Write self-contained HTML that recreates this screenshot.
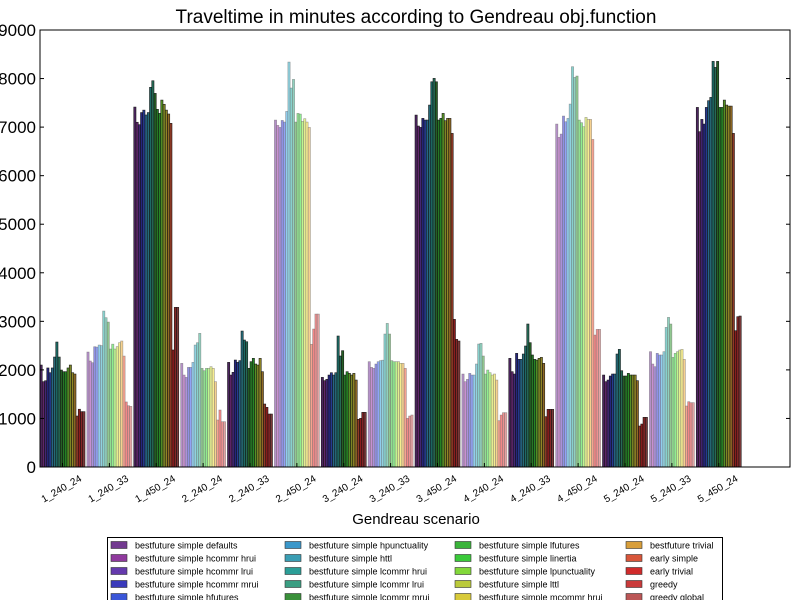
<!DOCTYPE html>
<html><head><meta charset="utf-8"><style>
body{margin:0;background:#fff;}
svg{display:block;font-family:"Liberation Sans",sans-serif;}
</style></head><body>
<svg id="chart" width="800" height="600" xmlns="http://www.w3.org/2000/svg">
<rect width="800" height="600" fill="#fff"/>
<text x="416" y="23" font-size="19" text-anchor="middle">Traveltime in minutes according to Gendreau obj.function</text>
<g id="bars"></g>
<g id="axes"></g>
<text x="416" y="524" font-size="15" text-anchor="middle">Gendreau scenario</text>
<g id="legend"></g>
</svg>
<script>
const categories = ["1_240_24","1_240_33","1_450_24","2_240_24","2_240_33","2_450_24","3_240_24","3_240_33","3_450_24","4_240_24","4_240_33","4_450_24","5_240_24","5_240_33","5_450_24"];
const seriesNames = ["bestfuture simple defaults","bestfuture simple hcommr hrui","bestfuture simple hcommr lrui","bestfuture simple hcommr mrui","bestfuture simple hfutures","bestfuture simple hpunctuality","bestfuture simple httl","bestfuture simple lcommr hrui","bestfuture simple lcommr lrui","bestfuture simple lcommr mrui","bestfuture simple lfutures","bestfuture simple linertia","bestfuture simple lpunctuality","bestfuture simple lttl","bestfuture simple mcommr hrui","bestfuture trivial","early simple","early trivial","greedy","greedy global"];
const seriesColors = ["#8040a0","#a040b0","#7040c0","#4040d0","#4060f0","#40a8e0","#40b0c8","#30b0a8","#40b090","#40a040","#40c840","#40e040","#90f040","#d0e040","#f0e040","#f0b040","#f06040","#e83030","#e04040","#d06060"];
const g1 = [2100,1757,1777,2040,1942,2040,2265,2574,2265,1997,1963,1963,2040,2100,1942,1915,1050,1190,1140,1140];
const g2 = [2368,2183,2148,2477,2470,2512,2500,3212,3075,2985,2430,2530,2430,2480,2560,2595,2285,1340,1262,1250];
const g3 = [7413,7100,7050,7300,7350,7250,7300,7820,7955,7695,7366,7283,7557,7470,7350,7270,7078,2410,3288,3288];
const g4 = [2135,1894,1846,2052,2052,2155,2512,2560,2753,2032,1983,2032,2032,2066,2032,1757,968,1174,933,933];
const g5 = [2155,1894,1950,2203,2155,2190,2800,2615,2580,2032,2169,2238,2121,2100,2238,1963,1297,1229,1091,1091];
const g6 = [7145,7036,6994,7138,7104,7324,8340,7805,7983,7104,7283,7269,7118,7173,7104,6994,2527,2842,3150,3150];
const g7 = [1846,1778,1805,1894,1942,1894,1942,2698,2286,2396,1894,1963,1929,1894,1929,1791,982,1002,1126,1126];
const g8 = [2169,2052,2032,2121,2169,2190,2200,2739,2958,2739,2190,2169,2169,2169,2135,2135,2032,1002,1050,1071];
const g9 = [7248,7022,6994,7180,7145,7145,7454,7934,8004,7934,7145,7180,7283,7132,7180,7180,6871,3041,2629,2595];
const g10 = [1915,1757,1805,1929,1894,1894,2121,2533,2547,2286,1915,1997,1942,1894,1915,1791,954,1071,1119,1119];
const g11 = [2238,1963,1915,2341,2217,2217,2327,2492,2945,2561,2307,2217,2203,2238,2258,2135,1037,1188,1188,1188];
const g12 = [7063,6789,6857,7228,7111,7180,7475,8244,8024,8052,7145,7091,7008,7200,7159,7159,6747,2718,2835,2835];
const g13 = [1894,1757,1791,1874,1915,1915,2327,2423,1983,1874,1874,1929,1894,1894,1894,1778,844,885,1023,1023];
const g14 = [2375,2121,2066,2341,2307,2307,2375,2876,3082,2945,2258,2341,2375,2409,2423,2217,1256,1345,1325,1325];
const g15 = [7406,6905,7159,7063,7406,7544,7612,8354,8230,8354,7406,7406,7557,7454,7433,7433,6871,2807,3096,3109];
const groupValues = [g1,g2,g3,g4,g5,g6,g7,g8,g9,g10,g11,g12,g13,g14,g15];
const yTicks = [0,1000,2000,3000,4000,5000,6000,7000,8000,9000];

const NS = "http://www.w3.org/2000/svg";
const X0 = 40, X1 = 790, Y0 = 467, Y1 = 30, YMAX = 9000, XMAX = 16;
const xs = u => X0 + (X1 - X0) * u / XMAX;
const ys = v => Y0 - (Y0 - Y1) * v / YMAX;
const nS = seriesNames.length;
const bw = 0.96 / nS;

function mix(hex, t, target) {
  const n = parseInt(hex.slice(1), 16);
  const c = [(n >> 16) & 255, (n >> 8) & 255, n & 255].map(v => Math.round(v + (target - v) * t));
  return "rgb(" + c.join(",") + ")";
}
function mk(tag, attrs, parent) {
  const e = document.createElementNS(NS, tag);
  for (const k in attrs) e.setAttribute(k, attrs[k]);
  parent.appendChild(e);
  return e;
}

const barsG = document.getElementById("bars");
groupValues.forEach((vals, gi) => {
  const light = gi % 2 === 1;
  vals.forEach((v, si) => {
    const x = xs(gi + si * bw), w = xs(bw) - X0;
    const fill = light ? mix(seriesColors[si], 0.42, 255) : mix(seriesColors[si], 0.4, 0);
    const r = mk("rect", {x: x.toFixed(2), y: ys(v).toFixed(2), width: w.toFixed(2), height: (Y0 - ys(v)).toFixed(2), fill: fill, stroke: light ? "#666" : "#111", "stroke-width": "0.6", "stroke-opacity": light ? "0.6" : "0.9"}, barsG);
    
    
  });
});

const ax = document.getElementById("axes");
yTicks.forEach(t => {
  const y = ys(t);
  const l1 = mk("line", {x1: X0, x2: X0 + 4, y1: y, y2: y, stroke: "#000", "stroke-width": 1}, ax);
  
  
  const l2 = mk("line", {x1: X1 - 4, x2: X1, y1: y, y2: y, stroke: "#000", "stroke-width": 1}, ax);
  
  
  const tx = mk("text", {x: 36, y: y + 6, "font-size": 17, "text-anchor": "end"}, ax);
  tx.textContent = t;
  
  
});
categories.forEach((c, i) => {
  const x = xs(i + 0.48);
  const l = mk("line", {x1: x, x2: x, y1: Y0, y2: Y0 - 4, stroke: "#000", "stroke-width": 1}, ax);
  
  
  const cx = x - 1, cy = Y0 + 22;
  const tx = mk("text", {x: cx, y: cy + 3, "font-size": 10, "text-anchor": "middle", transform: "rotate(-30 " + cx + " " + cy + ")"}, ax);
  tx.textContent = c;
  
  
});
const frame = mk("rect", {x: X0, y: Y1, width: X1 - X0, height: Y0 - Y1, fill: "none", stroke: "#000", "stroke-width": 1}, ax);



const lg = document.getElementById("legend");
const box = mk("rect", {x: 107.5, y: 537.5, width: 615, height: 80, fill: "#fff", stroke: "#000", "stroke-width": 1}, lg);


const colX = [111, 285, 455, 626];
seriesNames.forEach((n, i) => {
  const col = Math.floor(i / 5), row = i % 5;
  const y = 545 + row * 13;
  const sw = mk("rect", {x: colX[col], y: y - 3.5, width: 16, height: 7, fill: mix(seriesColors[i], 0.1, 0), stroke: "#333", "stroke-width": 0.6}, lg);
  
  
  const tx = mk("text", {x: colX[col] + 24, y: y + 3.5, "font-size": 9}, lg);
  tx.textContent = n;
  
  
});
</script>
</body></html>
